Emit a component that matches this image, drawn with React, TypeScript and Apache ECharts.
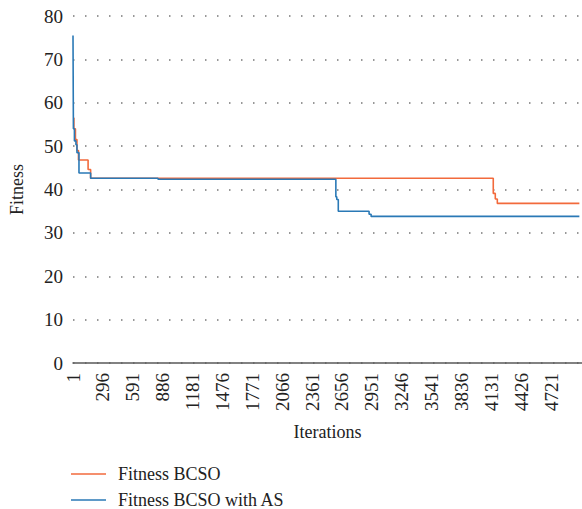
import React, { useEffect, useRef } from "react";
import * as echarts from "echarts";

// Step breakpoints: iteration at which the best fitness changes, and its new value
const bcsoIter = [1, 10, 25, 40, 55, 150, 175, 4150, 4170, 4190, 5000];
const bcsoFitness = [56.5, 54, 51.5, 49, 46.8, 44.6, 42.6, 39.1, 37.8, 36.8, 36.8];

const asIter = [1, 5, 15, 30, 40, 60, 175, 840, 2596, 2605, 2620, 2924, 2944, 5000];
const asFitness = [75.5, 54, 51.2, 50.3, 48.5, 43.8, 42.6, 42.35, 38.3, 37.7, 35.0, 34.3, 33.8, 33.8];

const seriesNames = ["Fitness BCSO", "Fitness BCSO with AS"];
const seriesColors = ["#F26A3C", "#2A79B6"];

// axis runs from iteration 1; positions are stored as (iteration - 1)
const toPoints = (iters: number[], vals: number[]) =>
  iters.map((it, i) => [it - 1, vals[i]]);

const LABEL_STEP = 295;
const LAST_ITERATION = 5000;
const FONT = "'Liberation Serif', 'DejaVu Serif', serif";

export default function App() {
  const ref = useRef<HTMLDivElement>(null);

  useEffect(() => {
    document.body.style.margin = "0";
    if (!ref.current) return;
    const chart = echarts.init(ref.current, undefined, { renderer: "svg" });
    chart.setOption({
      animation: false,
      backgroundColor: "#ffffff",
      grid: { left: 72, right: 0, top: 16, bottom: 146, containLabel: false },
      xAxis: {
        type: "value",
        min: 0,
        max: 5025,
        interval: LABEL_STEP,
        name: "Iterations",
        nameLocation: "middle",
        nameGap: 60,
        nameTextStyle: { fontFamily: FONT, fontSize: 18, color: "#222" },
        axisLine: { show: true, lineStyle: { color: "#595959", width: 1.5 } },
        axisTick: { show: false },
        splitLine: { show: false },
        axisLabel: {
          rotate: 90,
          margin: 10,
          fontFamily: FONT,
          fontSize: 19,
          color: "#222",
          formatter: (v: number) =>
            v % LABEL_STEP === 0 && v < LAST_ITERATION ? String(v + 1) : "",
        },
      },
      yAxis: {
        type: "value",
        min: 0,
        max: 80,
        interval: 10,
        name: "Fitness",
        nameLocation: "middle",
        nameGap: 47,
        nameRotate: 90,
        nameTextStyle: { fontFamily: FONT, fontSize: 18, color: "#222" },
        axisLine: { show: false },
        axisTick: { show: false },
        axisLabel: { margin: 10, fontFamily: FONT, fontSize: 19, color: "#222" },
        splitLine: {
          show: true,
          lineStyle: { color: "#777", width: 1.5, type: [1.5, 10.5] },
        },
      },
      legend: {
        show: true,
        orient: "vertical",
        left: 71,
        top: 465,
        height: 44,
        padding: 0,
        icon: "rect",
        itemWidth: 35,
        itemHeight: 1.5,
        itemGap: 8,
        textStyle: {
          fontFamily: FONT,
          fontSize: 18,
          lineHeight: 18,
          color: "#222",
          padding: [0, 0, 0, 7],
        },
        data: seriesNames,
      },
      series: [
        {
          name: seriesNames[0],
          type: "line",
          step: "end",
          showSymbol: false,
          data: toPoints(bcsoIter, bcsoFitness),
          lineStyle: { color: seriesColors[0], width: 1.6 },
          itemStyle: { color: seriesColors[0] },
        },
        {
          name: seriesNames[1],
          type: "line",
          step: "end",
          showSymbol: false,
          data: toPoints(asIter, asFitness),
          lineStyle: { color: seriesColors[1], width: 1.6 },
          itemStyle: { color: seriesColors[1] },
        },
      ],
    });
    return () => chart.dispose();
  }, []);

  return <div ref={ref} style={{ width: 582, height: 509 }} />;
}
